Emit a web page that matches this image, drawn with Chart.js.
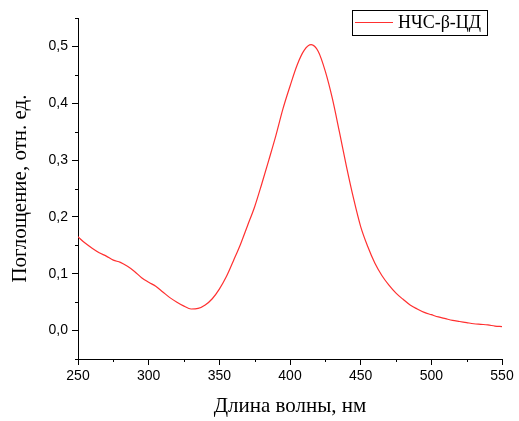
<!DOCTYPE html>
<html lang="ru">
<head>
    <meta charset="UTF-8">
    <title>Поглощение НЧС-β-ЦД</title>
    <script src="https://cdn.jsdelivr.net/npm/chart.js"></script>
    <style>
        html, body { margin: 0; padding: 0; background: #fff; }
        #wrap { width: 519px; height: 421px; }
    </style>
</head>
<body>
<div id="wrap"><canvas id="spectrum" width="519" height="421"></canvas></div>

<script>
    // wavelength, nm
    const wavelengths = [250, 255, 260, 265, 270, 275, 280, 285, 290, 295,
                         300, 305, 310, 315, 320, 325, 330, 335, 340, 345,
                         350, 355, 360, 365, 370, 375, 380, 385, 390, 395,
                         400, 405, 410, 415, 420, 425, 430, 435, 440, 445,
                         450, 455, 460, 465, 470, 475, 480, 485, 490, 495,
                         500, 505, 510, 515, 520, 525, 530, 535, 540, 545, 550];
    // absorbance, rel. units
    const absorbance = [0.165, 0.154, 0.145, 0.137, 0.131, 0.124, 0.120, 0.113, 0.104, 0.093,
                        0.085, 0.078, 0.068, 0.058, 0.050, 0.043, 0.038, 0.039, 0.045, 0.056,
                        0.073, 0.095, 0.123, 0.152, 0.185, 0.218, 0.258, 0.300, 0.343, 0.390,
                        0.430, 0.467, 0.493, 0.503, 0.491, 0.456, 0.408, 0.349, 0.288, 0.232,
                        0.183, 0.148, 0.119, 0.097, 0.080, 0.066, 0.055, 0.045, 0.038, 0.032,
                        0.028, 0.024, 0.021, 0.018, 0.016, 0.014, 0.012, 0.011, 0.010, 0.008, 0.007];
    const seriesName = "НЧС-β-ЦД";
    const xTicks = [250, 300, 350, 400, 450, 500, 550];
    const xMinorTicks = [275, 325, 375, 425, 475, 525];
    const yTicks = [0, 0.1, 0.2, 0.3, 0.4, 0.5];
    const yMinorTicks = [-0.05, 0.05, 0.15, 0.25, 0.35, 0.45, 0.55];

    const lineColor = "#ff3030";

    // short minor tick marks on both axes
    const minorTicks = {
        id: "minorTicks",
        afterDraw(chart) {
            const ctx = chart.ctx;
            const x = chart.scales.x, y = chart.scales.y;
            ctx.save();
            ctx.strokeStyle = "#000";
            ctx.lineWidth = 1;
            ctx.beginPath();
            xMinorTicks.forEach(v => {
                const px = Math.round(x.getPixelForValue(v)) + 0.5;
                ctx.moveTo(px, y.bottom);
                ctx.lineTo(px, y.bottom + 3);
            });
            yMinorTicks.forEach(v => {
                const py = Math.round(y.getPixelForValue(v)) + 0.5;
                ctx.moveTo(x.left, py);
                ctx.lineTo(x.left - 3, py);
            });
            ctx.stroke();
            ctx.restore();
        }
    };

    // boxed legend in the top right corner
    const boxLegend = {
        id: "boxLegend",
        afterDraw(chart) {
            const ctx = chart.ctx;
            const ds = chart.data.datasets[0];
            ctx.save();
            ctx.fillStyle = "#fff";
            ctx.fillRect(352, 10, 135, 25);
            ctx.strokeStyle = "#000";
            ctx.lineWidth = 1;
            ctx.strokeRect(352.5, 10.5, 135, 25);
            ctx.strokeStyle = ds.borderColor;
            ctx.beginPath();
            ctx.moveTo(355, 22.5);
            ctx.lineTo(393, 22.5);
            ctx.stroke();
            ctx.fillStyle = "#000";
            ctx.font = "18px 'Liberation Serif'";
            ctx.textBaseline = "middle";
            ctx.fillText(ds.label, 398, 23);
            ctx.restore();
        }
    };

    const commaFmt = v => v.toFixed(1).replace(".", ",");

    new Chart(document.getElementById("spectrum"), {
        type: "line",
        data: {
            labels: wavelengths,
            datasets: [{
                label: seriesName,
                data: wavelengths.map((w, i) => ({ x: w, y: absorbance[i] })),
                borderColor: lineColor,
                borderWidth: 1.2,
                pointRadius: 0,
                cubicInterpolationMode: "monotone",
                fill: false
            }]
        },
        options: {
            responsive: false,
            animation: false,
            layout: { padding: { left: 0, right: 17, top: 18, bottom: 0 } },
            plugins: {
                legend: { display: false },
                tooltip: { enabled: false }
            },
            scales: {
                x: {
                    type: "linear",
                    min: 250,
                    max: 550,
                    afterBuildTicks: s => { s.ticks = xTicks.map(v => ({ value: v })); },
                    afterFit: s => { s.height = 62; },
                    grid: { drawOnChartArea: false, drawTicks: true, tickLength: 6, color: "#000" },
                    border: { display: true, color: "#000", width: 1 },
                    ticks: {
                        color: "#000",
                        padding: 3,
                        maxRotation: 0,
                        font: { family: "'Liberation Sans'", size: 14 }
                    },
                    title: {
                        display: true,
                        text: "Длина волны, нм",
                        color: "#000",
                        font: { family: "'Liberation Serif'", size: 21 },
                        padding: { top: 0, bottom: 2 }
                    }
                },
                y: {
                    min: -0.05,
                    max: 0.55,
                    afterBuildTicks: s => { s.ticks = yTicks.map(v => ({ value: v })); },
                    afterFit: s => { s.width = 78; },
                    grid: { drawOnChartArea: false, drawTicks: true, tickLength: 6, color: "#000" },
                    border: { display: true, color: "#000", width: 1 },
                    ticks: {
                        color: "#000",
                        padding: 4,
                        callback: v => commaFmt(v),
                        font: { family: "'Liberation Sans'", size: 14 }
                    },
                    title: {
                        display: true,
                        text: "Поглощение, отн. ед.",
                        color: "#000",
                        font: { family: "'Liberation Serif'", size: 21 },
                        padding: { top: 8, bottom: 0 }
                    }
                }
            }
        },
        plugins: [minorTicks, boxLegend]
    });
</script>
</body>
</html>
